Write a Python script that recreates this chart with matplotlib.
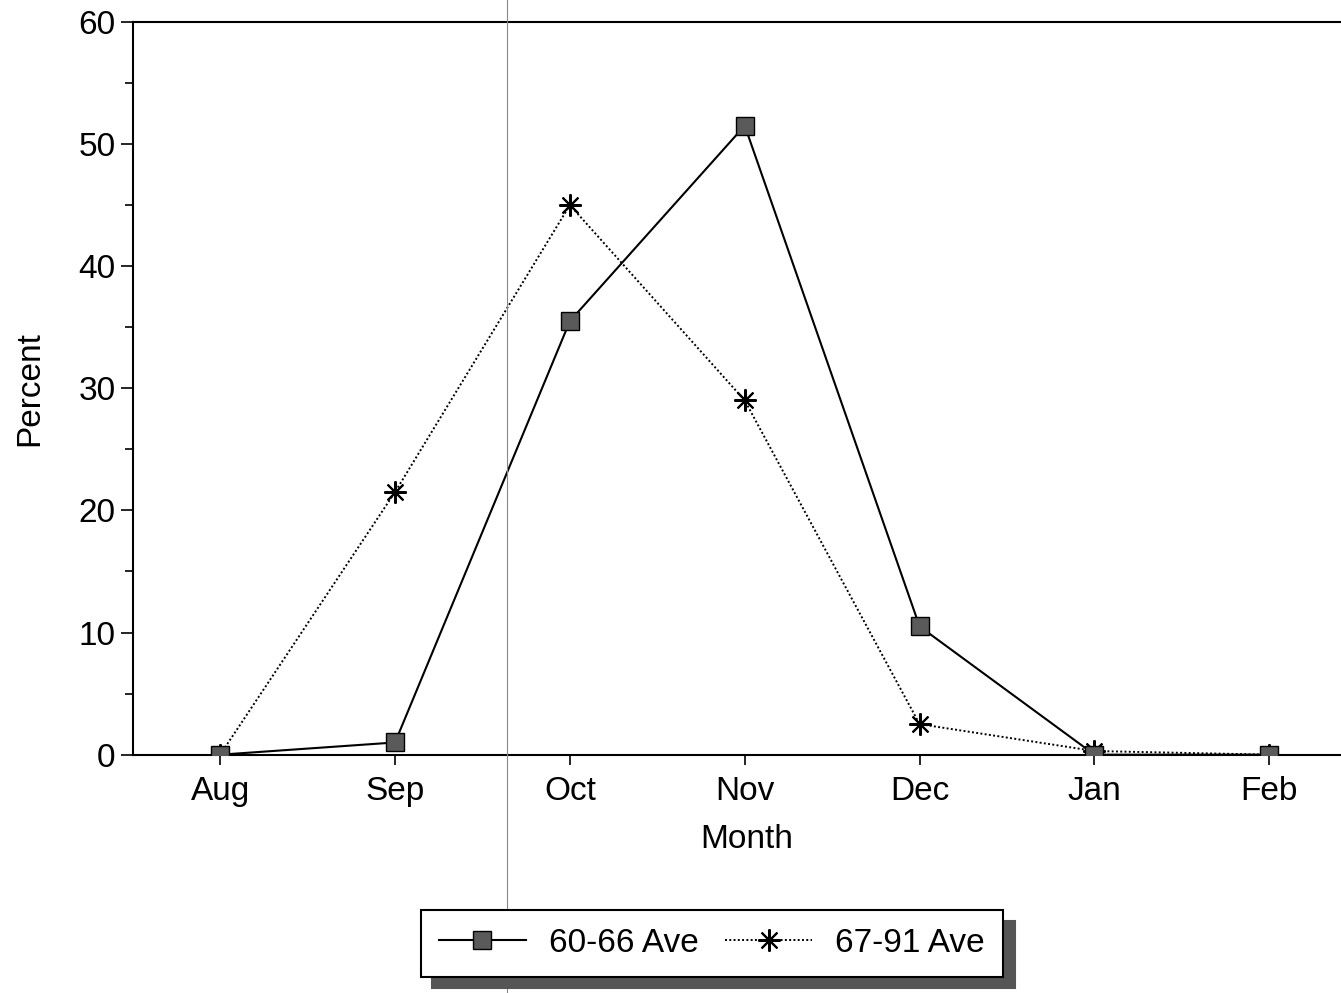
import matplotlib.pyplot as plt
from matplotlib.lines import Line2D
from matplotlib.ticker import MultipleLocator

plt.rcParams['font.family'] = ['Liberation Sans', 'DejaVu Sans']

months = ['Aug', 'Sep', 'Oct', 'Nov', 'Dec', 'Jan', 'Feb']
ave_60_66 = [0, 1, 35.5, 51.5, 10.5, 0, 0]
ave_67_91 = [0, 21.5, 45, 29, 2.5, 0.3, 0]

fig = plt.figure(figsize=(13.41, 9.93), dpi=100)
ax = fig.add_axes([0.099, 0.240, 0.901, 0.738])

x = list(range(len(months)))
ax.plot(x, ave_60_66, color='black', linewidth=1.5, marker='s', markersize=13,
        markerfacecolor='#5a5a5a', markeredgecolor='black', label='60-66 Ave', zorder=3)
ax.plot(x, ave_67_91, color='black', linewidth=1.4, linestyle=(0, (1, 1.2)),
        marker=(8, 2, 0), markersize=16, markeredgewidth=1.5, label='67-91 Ave', zorder=2)

ax.set_xlim(-0.5, 6.41)
ax.set_ylim(0, 60)
ax.set_xticks(x)
ax.set_xticklabels(months)
ax.yaxis.set_major_locator(MultipleLocator(10))
ax.yaxis.set_minor_locator(MultipleLocator(5))
ax.tick_params(axis='both', labelsize=24)
ax.tick_params(axis='y', which='major', length=9, width=1.2)
ax.tick_params(axis='y', which='minor', length=6, width=1.2)
ax.tick_params(axis='x', length=7, width=1.2, pad=8)
ax.spines['right'].set_visible(False)
for s in ['left', 'top', 'bottom']:
    ax.spines[s].set_linewidth(1.5)

ax.set_xlabel('Month', fontsize=24)
ax.xaxis.set_label_coords(0.508, -0.095)
ax.set_ylabel('Percent', fontsize=24, labelpad=24)

leg = fig.legend(loc='center', bbox_to_anchor=(0.531, 0.050), ncol=2, fontsize=24,
                 frameon=True, fancybox=False, edgecolor='black', numpoints=1,
                 handlelength=2.6, columnspacing=0.8, handletextpad=0.7,
                 borderpad=0.55, shadow={'ox': 8, 'oy': -8, 'color': '#555555', 'alpha': 1})
leg.get_frame().set_linewidth(1.5)

# thin scan artifact line
fig.add_artist(Line2D([0.378, 0.378], [0, 1], color='#888888', linewidth=0.8,
                      transform=fig.transFigure))

fig.savefig('out.png', dpi=100)
